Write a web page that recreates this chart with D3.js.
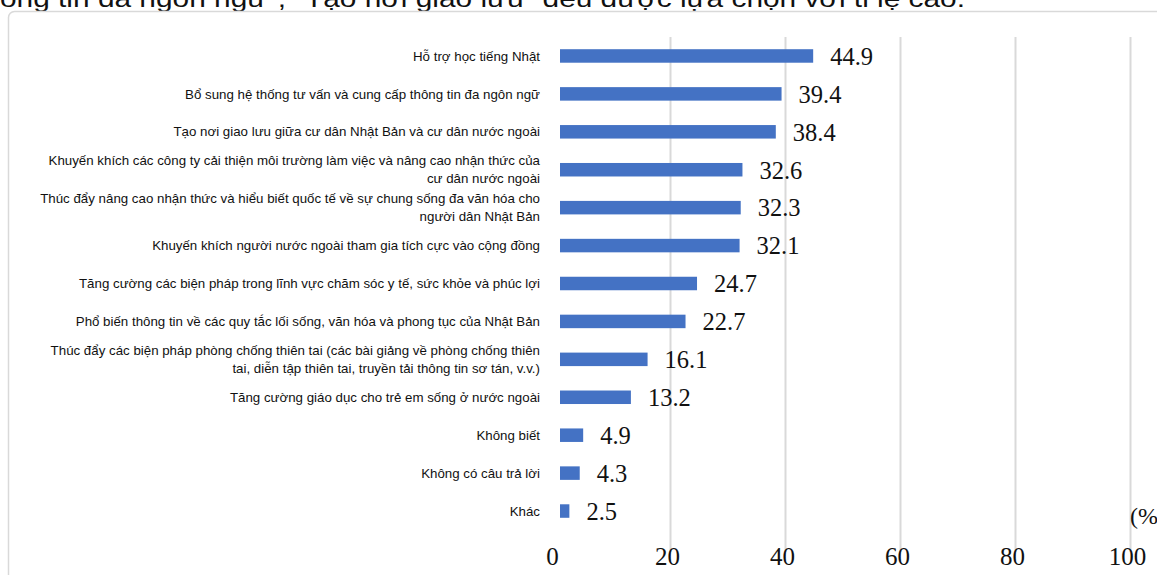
<!DOCTYPE html>
<html>
<head>
<meta charset="utf-8">
<script src="https://cdn.jsdelivr.net/npm/d3@7"></script>
<style>
  html, body { margin: 0; padding: 0; background: #fff; overflow: hidden; }
  svg { display: block; }
</style>
</head>
<body>
<svg id="chart" width="1157" height="575"></svg>
<script>
const categories = [
  "Hỗ trợ học tiếng Nhật",
  "Bổ sung hệ thống tư vấn và cung cấp thông tin đa ngôn ngữ",
  "Tạo nơi giao lưu giữa cư dân Nhật Bản và cư dân nước ngoài",
  "Khuyến khích các công ty cải thiện môi trường làm việc và nâng cao nhận thức của\ncư dân nước ngoài",
  "Thúc đẩy nâng cao nhận thức và hiểu biết quốc tế về sự chung sống đa văn hóa cho\nngười dân Nhật Bản",
  "Khuyến khích người nước ngoài tham gia tích cực vào cộng đồng",
  "Tăng cường các biện pháp trong lĩnh vực chăm sóc y tế, sức khỏe và phúc lợi",
  "Phổ biến thông tin về các quy tắc lối sống, văn hóa và phong tục của Nhật Bản",
  "Thúc đẩy các biện pháp phòng chống thiên tai (các bài giảng về phòng chống thiên\ntai, diễn tập thiên tai, truyền tải thông tin sơ tán, v.v.)",
  "Tăng cường giáo dục cho trẻ em sống ở nước ngoài",
  "Không biết",
  "Không có câu trả lời",
  "Khác"
];
const values = [44.9, 39.4, 38.4, 32.6, 32.3, 32.1, 24.7, 22.7, 16.1, 13.2, 4.9, 4.3, 2.5];
const tickValues = [0, 20, 40, 60, 80, 100];
const unitLabel = "(%)";
const captionText = "ông tin đa ngôn ngữ\", \"Tạo nơi giao lưu\" đều được lựa chọn với tỉ lệ cao.";

const svg = d3.select("#chart");

// caption cut off at top
svg.append("text")
  .attr("x", 0).attr("y", 7)
  .attr("font-family", "Liberation Sans, Arial, sans-serif")
  .attr("font-size", 24)
  .attr("fill", "#111")
  .attr("textLength", 965)
  .attr("lengthAdjust", "spacingAndGlyphs")
  .text(captionText);

// frame
svg.append("rect")
  .attr("x", 8.5).attr("y", 11.5)
  .attr("width", 1200).attr("height", 620)
  .attr("rx", 6)
  .attr("fill", "none")
  .attr("stroke", "#d9d9d9")
  .attr("stroke-width", 1.5);

const x = d3.scaleLinear().domain([0, 100]).range([555, 1130]);
const y = d3.scaleBand().domain(categories).range([37, 530])
  .paddingInner(0.644).paddingOuter(0.322);

const gridTop = 37, gridBottom = 552;

// gridlines
svg.append("g")
  .attr("transform", `translate(0,${gridBottom})`)
  .call(d3.axisBottom(x).tickValues(tickValues.filter(d => d > 0))
    .tickSize(-(gridBottom - gridTop)).tickFormat(""))
  .call(g => g.select(".domain").remove())
  .call(g => g.selectAll(".tick line").attr("stroke", "#d9d9d9").attr("stroke-width", 2));

// axis labels
svg.append("g")
  .attr("transform", `translate(-3,544)`)
  .call(d3.axisBottom(x).tickValues(tickValues).tickSize(0).tickFormat(d3.format("d")))
  .call(g => g.select(".domain").remove())
  .call(g => g.selectAll(".tick text")
    .attr("font-family", "Liberation Serif, Times New Roman, serif")
    .attr("font-size", 25)
    .attr("fill", "#111"));

// bars
svg.append("g").selectAll("rect")
  .data(values)
  .join("rect")
  .attr("x", x(0) + 5)
  .attr("y", (d, i) => y(categories[i]))
  .attr("width", d => x(d) - x(0) - 5)
  .attr("height", y.bandwidth())
  .attr("fill", "#4472C4");

// value labels
svg.append("g").selectAll("text")
  .data(values)
  .join("text")
  .attr("x", d => x(d) + 17)
  .attr("y", (d, i) => y(categories[i]) + y.bandwidth() / 2)
  .attr("dy", "0.36em")
  .attr("font-family", "Liberation Serif, Times New Roman, serif")
  .attr("font-size", 24.5)
  .attr("fill", "#111")
  .text(d => d.toFixed(1));

// category labels
const lab = svg.append("g").selectAll("text")
  .data(categories)
  .join("text")
  .attr("text-anchor", "end")
  .attr("font-family", "Liberation Sans, Arial, sans-serif")
  .attr("font-size", 13.3)
  .attr("fill", "#111");
lab.each(function(d) {
  const lines = d.split("\n");
  const cy = y(d) + y.bandwidth() / 2;
  const lh = 18;
  const t = d3.select(this);
  lines.forEach((ln, k) => {
    t.append("tspan")
      .attr("x", 540)
      .attr("y", cy + (k - (lines.length - 1) / 2) * lh)
      .attr("dy", "0.35em")
      .text(ln);
  });
});

// unit label
svg.append("text")
  .attr("x", 1130).attr("y", 515)
  .attr("dy", "0.36em")
  .attr("font-family", "Liberation Serif, Times New Roman, serif")
  .attr("font-size", 24)
  .attr("fill", "#111")
  .text(unitLabel);
</script>
</body>
</html>
